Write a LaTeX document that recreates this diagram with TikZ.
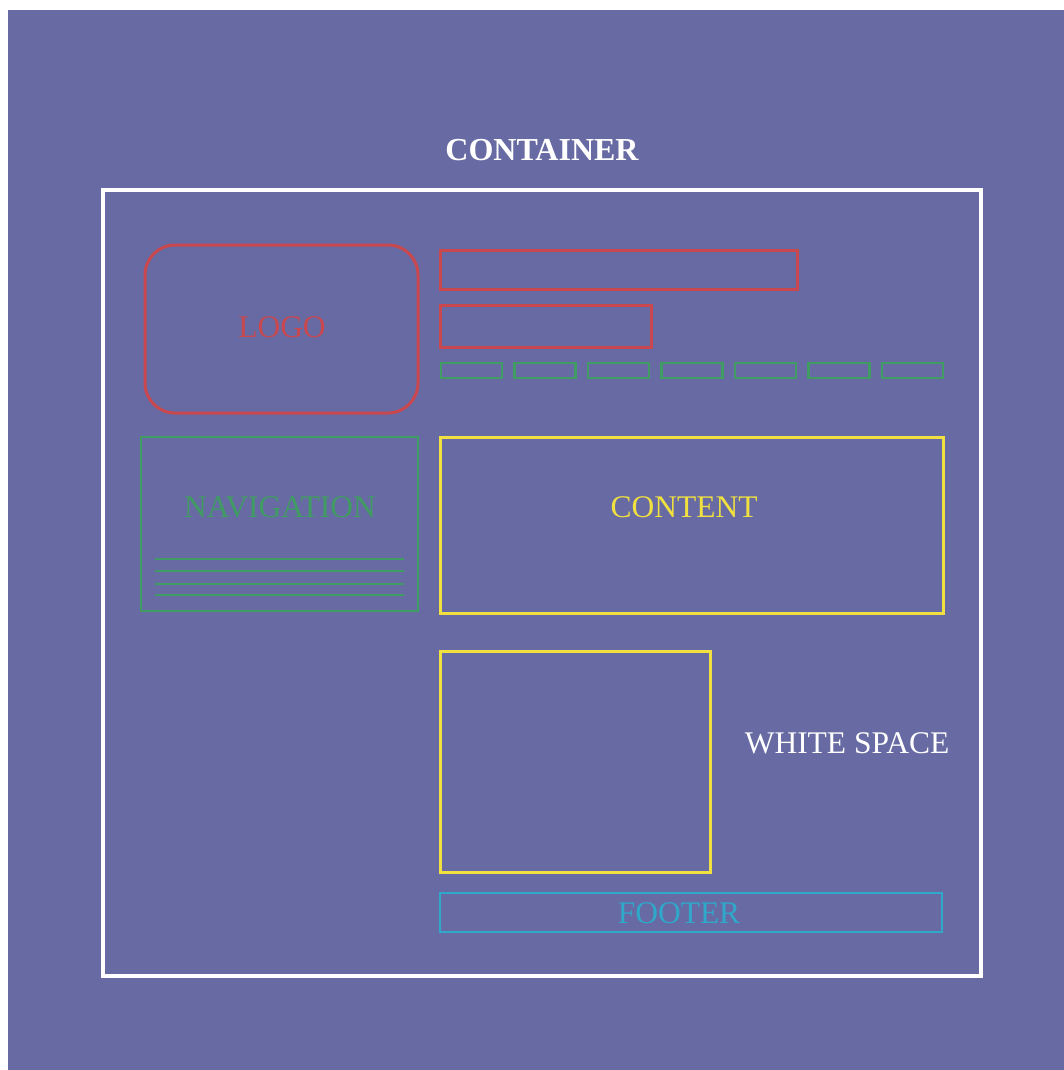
\documentclass[tikz,border=0pt]{standalone}
\usepackage{fontspec}
\setmainfont{Liberation Serif}
\usepackage{tikz}
\usetikzlibrary{positioning,calc}
\usepackage{xcolor}
\definecolor{pagebg}{HTML}{676AA3}
\definecolor{wred}{HTML}{C9474F}
\definecolor{wgreen}{HTML}{409C62}
\definecolor{wyellow}{HTML}{F0E040}
\definecolor{wcyan}{HTML}{2FA8CA}
\tikzset{
  frame/.style   = {draw, rectangle, inner sep=0pt},
  redbox/.style  = {frame, wred, line width=3pt},
  greenbox/.style= {frame, wgreen, line width=2.6pt},
  yelbox/.style  = {frame, wyellow, line width=3pt},
  cyanbox/.style = {frame, wcyan, line width=2.8pt},
  lbl/.style     = {font=\fontsize{31.5}{36}\selectfont, inner sep=0pt},
}

\begin{document}
\begin{tikzpicture}[x=1pt,y=-1pt]
\useasboundingbox (0,0) rectangle (1064,1070);
\fill[pagebg] (8,10) rectangle (1064,1070);
% container
\node[lbl,white,font=\bfseries\fontsize{32}{36}\selectfont] (title) at (542,150) {CONTAINER};
\node[frame,white,line width=4.5pt,minimum width=878pt,minimum height=786pt] (container) at (542,583) {};
% header
\node[redbox,rounded corners=30pt,minimum width=273pt,minimum height=168pt] (logo) at (281.5,329) {};
\node[lbl,wred] (logotext) at (282,327) {LOGO};
\node[redbox,minimum width=357pt,minimum height=39pt] (bar1) at (618.5,269.5) {};
\node[redbox,minimum width=211pt,minimum height=42pt] (bar2) at (545.5,326) {};
\foreach \i in {0,...,6}
  \node[greenbox,line width=2.3pt,minimum width=61pt,minimum height=15pt] (tab\i) at (471.5+73.5*\i,370.5) {};
% navigation
\node[greenbox,minimum width=277pt,minimum height=174pt] (nav) at (279.5,524) {};
\node[lbl,wgreen] (navtext) at (280,507) {NAVIGATION};
\foreach \y in {559,571,584,595}
  \draw[wgreen,line width=1.7pt] (155,\y) -- (404,\y);
% content
\node[yelbox,minimum width=503pt,minimum height=176pt] (content) at (691.5,525) {};
\node[lbl,wyellow] (contenttext) at (684,507) {CONTENT};
\node[yelbox,minimum width=270pt,minimum height=221pt] (media) at (575,761.5) {};
\node[lbl,white] (space) at (847,743) {WHITE SPACE};
% footer
\node[cyanbox,minimum width=502pt,minimum height=39pt] (footer) at (691,912.5) {};
\node[lbl,wcyan] (footertext) at (679,913) {FOOTER};
\end{tikzpicture}
\end{document}
